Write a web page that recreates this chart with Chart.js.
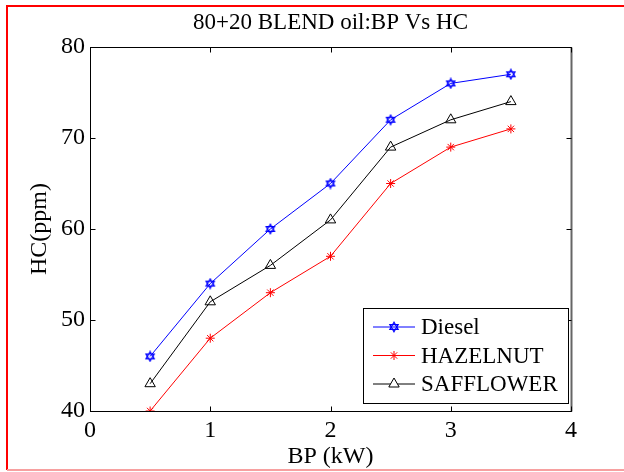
<!DOCTYPE html>
<html>
<head>
<meta charset="utf-8">
<script src="https://cdn.jsdelivr.net/npm/chart.js@4.4.1/dist/chart.umd.min.js"></script>
<style>
    html, body { margin: 0; padding: 0; background: #ffffff; }
    #wrap { width: 624px; height: 472px; }
</style>
</head>
<body>
<div id="wrap"><canvas id="chart" width="624" height="472"></canvas></div>
<script>
// данные графика
const bpValues = [0.5, 1, 1.5, 2, 2.5, 3, 3.5];
const diesel = [46, 54, 60, 65, 72, 76, 77];
const hazelnut = [40, 48, 53, 57, 65, 69, 71];
const safflower = [43, 52, 56, 61, 69, 72, 74];
const xTicks = [0, 1, 2, 3, 4];
const yTicks = [40, 50, 60, 70, 80];

const titleText = '80+20 BLEND oil:BP Vs HC';
const xTitle = 'BP (kW)';
const yTitle = 'HC(ppm)';
const serif = '"Liberation Serif", "Times New Roman", serif';

// гексаграмма для маркера Diesel
function makeHexagram(color) {
    const c = document.createElement('canvas');
    c.width = 12;
    c.height = 12;
    const ctx = c.getContext('2d');
    ctx.strokeStyle = color;
    ctx.lineWidth = 1.2;
    const r = 4.8, cx = 6, cy = 6;
    [Math.PI / 2, -Math.PI / 2].forEach(start => {
        ctx.beginPath();
        for (let i = 0; i < 3; i++) {
            const a = start + i * 2 * Math.PI / 3;
            const px = cx + r * Math.cos(a), py = cy - r * Math.sin(a);
            if (i === 0) ctx.moveTo(px, py); else ctx.lineTo(px, py);
        }
        ctx.closePath();
        ctx.stroke();
    });
    return c;
}
const hexagram = makeHexagram('#0000ff');

const toPoints = (arr) => arr.map((v, i) => ({x: bpValues[i], y: v}));

// рамка, засечки внутрь, подписи и легенда
const matlabPlugin = {
    id: 'matlabPlugin',
    afterDraw(chart) {
        const ctx = chart.ctx;
        const a = chart.chartArea;
        const xs = chart.scales.x, ys = chart.scales.y;
        ctx.save();

        // красная рамка вокруг рисунка (без правой стороны)
        ctx.strokeStyle = '#ff0000';
        ctx.lineWidth = 2;
        ctx.beginPath();
        ctx.moveTo(7, 470);
        ctx.lineTo(7, 6);
        ctx.lineTo(624, 6);
        ctx.stroke();
        ctx.strokeStyle = '#f7a0a0';
        ctx.beginPath();
        ctx.moveTo(7, 470);
        ctx.lineTo(624, 470);
        ctx.stroke();

        // рамка осей
        ctx.strokeStyle = '#000000';
        ctx.lineWidth = 1;
        const L = Math.round(a.left) + 0.5, R = Math.round(a.right) + 0.5;
        const T = Math.round(a.top) + 0.5, B = Math.round(a.bottom) + 0.5;
        ctx.strokeRect(L, T, R - L, B - T);
        ctx.strokeStyle = '#666666';
        ctx.lineWidth = 2;
        ctx.beginPath();
        ctx.moveTo(R, T);
        ctx.lineTo(R, B);
        ctx.stroke();

        // засечки
        ctx.strokeStyle = '#000000';
        ctx.lineWidth = 1;
        const tl = 5;
        ctx.beginPath();
        xTicks.forEach(v => {
            const px = Math.round(xs.getPixelForValue(v)) + 0.5;
            ctx.moveTo(px, B); ctx.lineTo(px, B - tl);
            ctx.moveTo(px, T); ctx.lineTo(px, T + tl);
        });
        yTicks.forEach(v => {
            const py = Math.round(ys.getPixelForValue(v)) + 0.5;
            ctx.moveTo(L, py); ctx.lineTo(L + tl, py);
            ctx.moveTo(R, py); ctx.lineTo(R - tl, py);
        });
        ctx.stroke();

        // заголовок и подписи осей
        ctx.fillStyle = '#000000';
        ctx.font = '23px ' + serif;
        ctx.textAlign = 'center';
        ctx.textBaseline = 'middle';
        ctx.fillText(titleText, (a.left + a.right) / 2, 23);
        ctx.font = '24px ' + serif;
        ctx.fillText(xTitle, (a.left + a.right) / 2, 457);
        ctx.save();
        ctx.translate(40, (a.top + a.bottom) / 2);
        ctx.rotate(-Math.PI / 2);
        ctx.fillText(yTitle, 0, 0);
        ctx.restore();

        // легенда
        const box = {x: 363.5, y: 308.5, w: 205, h: 95};
        ctx.fillStyle = '#ffffff';
        ctx.fillRect(box.x, box.y, box.w, box.h);
        ctx.strokeStyle = '#000000';
        ctx.lineWidth = 1;
        ctx.strokeRect(box.x, box.y, box.w, box.h);
        chart.data.datasets.forEach((ds, i) => {
            const y = 327 + i * 28.5;
            ctx.strokeStyle = ds.borderColor;
            ctx.lineWidth = 1;
            ctx.beginPath();
            ctx.moveTo(373, y);
            ctx.lineTo(415, y);
            ctx.stroke();
            const ps = ds.pointStyle;
            if (ps instanceof HTMLCanvasElement) {
                ctx.drawImage(ps, 394 - ps.width / 2, y - ps.height / 2);
            } else {
                ctx.fillStyle = '#ffffff';
                ctx.strokeStyle = ds.pointBorderColor;
                Chart.helpers.drawPoint(ctx, {
                    pointStyle: ps,
                    radius: ds.pointRadius,
                    borderWidth: 1,
                    rotation: 0
                }, 394, y);
            }
            ctx.fillStyle = '#000000';
            ctx.font = '23px ' + serif;
            ctx.textAlign = 'left';
            ctx.textBaseline = 'middle';
            ctx.fillText(ds.label, 421, y + 1);
        });
        ctx.restore();
    }
};

new Chart(document.getElementById('chart'), {
    type: 'line',
    data: {
        datasets: [{
            label: 'Diesel',
            data: toPoints(diesel),
            borderColor: '#0000ff',
            borderWidth: 1,
            pointStyle: hexagram,
            pointRadius: 5,
            pointBorderColor: '#0000ff',
            pointBackgroundColor: 'rgba(0,0,0,0)',
            tension: 0
        }, {
            label: 'HAZELNUT',
            data: toPoints(hazelnut),
            borderColor: '#ff0000',
            borderWidth: 1,
            pointStyle: 'star',
            pointRadius: 4.5,
            pointBorderColor: '#ff0000',
            pointBackgroundColor: 'rgba(0,0,0,0)',
            tension: 0
        }, {
            label: 'SAFFLOWER',
            data: toPoints(safflower),
            borderColor: '#000000',
            borderWidth: 1,
            pointStyle: 'triangle',
            pointRadius: 6,
            pointBorderColor: '#000000',
            pointBackgroundColor: 'rgba(0,0,0,0)',
            tension: 0
        }]
    },
    options: {
        responsive: false,
        animation: false,
        layout: {padding: {top: 47, right: 53, left: 0, bottom: 0}},
        plugins: {
            legend: {display: false},
            title: {display: false},
            tooltip: {enabled: false}
        },
        scales: {
            x: {
                type: 'linear',
                min: 0,
                max: 4,
                afterBuildTicks(scale) { scale.ticks = xTicks.map(v => ({value: v})); },
                afterFit(scale) { scale.height = 61; },
                grid: {display: false, drawTicks: false},
                border: {display: false},
                ticks: {
                    color: '#000000',
                    padding: 5,
                    font: {family: serif, size: 24}
                }
            },
            y: {
                min: 40,
                max: 80,
                afterBuildTicks(scale) { scale.ticks = yTicks.map(v => ({value: v})); },
                afterFit(scale) { scale.width = 90; },
                grid: {display: false, drawTicks: false},
                border: {display: false},
                ticks: {
                    color: '#000000',
                    padding: 5,
                    font: {family: serif, size: 24}
                }
            }
        }
    },
    plugins: [matlabPlugin]
});
</script>
</body>
</html>
